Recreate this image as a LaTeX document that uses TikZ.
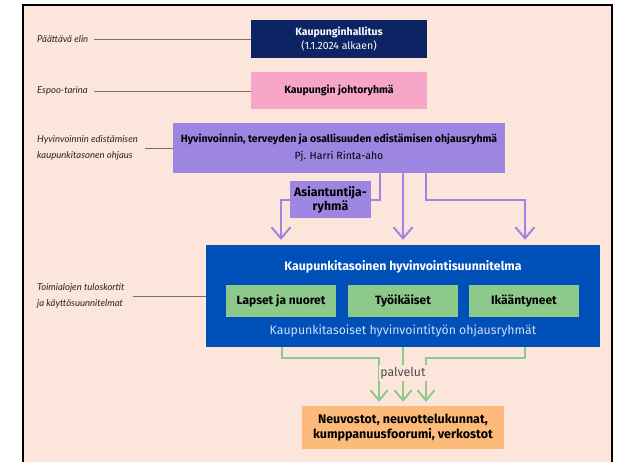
\documentclass[tikz,border=0pt]{standalone}
\usepackage{fontspec}
\setmainfont{Fira Sans}
\newfontfamily\labelfont{Lato}
\usepackage{xcolor}
\usepackage{tikz}
\usetikzlibrary{arrows.meta}

\definecolor{peach}{RGB}{252,229,218}
\definecolor{navy}{RGB}{12,36,100}
\definecolor{rosa}{RGB}{247,166,200}
\definecolor{lila}{RGB}{157,134,225}
\definecolor{sininen}{RGB}{0,80,185}
\definecolor{vihrea}{RGB}{140,201,138}
\definecolor{oranssi}{RGB}{253,187,123}
\definecolor{harmaa}{RGB}{120,110,105}
\definecolor{vaalea}{RGB}{205,222,255}

\begin{document}
\begin{tikzpicture}[x=1pt, y=-1pt]
\tikzstyle{boxtext}=[font=\fontsize{10.5}{12.5}\selectfont, align=center, inner sep=0pt]
\tikzstyle{bigtext}=[boxtext, font=\fontsize{12.3}{14}\selectfont]
\tikzstyle{orgbox}=[boxtext, minimum width=176pt, minimum height=38pt]
\tikzstyle{sidelabel}=[font=\labelfont\itshape\fontsize{9.5}{15.5}\selectfont, text=black!85, align=left, anchor=west, inner sep=0pt]
\tikzstyle{sideline}=[draw=harmaa, line width=1pt]
\tikzstyle{flow}=[draw=lila, line width=2pt, -{Straight Barb[length=11pt, width=19pt]}]
\tikzstyle{serve}=[draw=vihrea, line width=2pt, -{Straight Barb[length=10pt, width=17pt]}]
\tikzstyle{groupbox}=[bigtext, fill=vihrea, minimum width=110pt, minimum height=32pt, font=\fontsize{12}{14}\selectfont\bfseries]

\useasboundingbox (0,0) rectangle (621,461);
\clip (0,0) rectangle (621,461);
\fill[white] (0,0) rectangle (621,461);

% Background 'container'
\path[fill=peach, draw=black, line width=2pt] (23,5) rectangle (612,480);

\node[orgbox, fill=navy, text=white] (hallitus) at (339,39) {\textbf{Kaupunginhallitus}\\[2pt](1.1.2024 alkaen)};
\node[orgbox, fill=rosa, minimum height=37pt, font=\fontsize{10.5}{12.5}\selectfont\bfseries] (johto) at (339,90.5) {Kaupungin johtoryhmä};
\node[boxtext, fill=lila, minimum width=332pt, minimum height=50pt] (ohjaus) at (339,148) {\textbf{Hyvinvoinnin, terveyden ja osallisuuden edistämisen ohjausryhmä}\\[4pt]Pj. Harri Rinta-aho};
\node[bigtext, fill=lila, minimum width=81pt, minimum height=37pt, font=\fontsize{12.3}{14}\selectfont\bfseries] (asiantuntija) at (330.5,199.5) {Asiantuntija-\\ryhmä};

\node[fill=sininen, minimum width=394pt, minimum height=102pt, inner sep=0pt] (suunnitelma) at (403,296) {};
\node[bigtext, text=white, font=\fontsize{12.3}{14}\selectfont\bfseries] (otsikko) at (403,267) {Kaupunkitasoinen hyvinvointisuunnitelma};
\node[groupbox] (lapset) at (281,301) {Lapset ja nuoret};
\node[groupbox] (tyoikaiset) at (403,301) {Työikäiset};
\node[groupbox] (ikaantyneet) at (524,301) {Ikääntyneet};
\node[bigtext, text=vaalea] (ryhmat) at (403,331) {Kaupunkitasoiset hyvinvointityön ohjausryhmät};

\node[bigtext, fill=oranssi, minimum width=202pt, minimum height=43pt, font=\fontsize{12.5}{14.5}\selectfont\bfseries] (verkostot) at (403,427.5) {Neuvostot, neuvottelukunnat,\\kumppanuusfoorumi, verkostot};

% side labels
\node[sidelabel] (elin) at (37,39) {Päättävä elin};
\node[sidelabel] (tarina) at (37,91) {Espoo-tarina};
\node[sidelabel] (edistaminen) at (37,148) {Hyvinvoinnin edistämisen\\kaupunkitasonen ohjaus};
\node[sidelabel] (tuloskortit) at (37,296) {Toimialojen tuloskortit\\ja käyttösuunnitelmat};

\path[sideline] ([xshift=6pt]elin.east) -- (elin.east -| hallitus.west);
\path[sideline] ([xshift=6pt]tarina.east) -- (tarina.east -| johto.west);
\path[sideline] ([xshift=7pt]edistaminen.east) -- (edistaminen.east -| ohjaus.west);
\path[sideline] ([xshift=8pt]tuloskortit.east) -- (tuloskortit.east -| suunnitelma.west);

% ohjaus -> suunnitelma
\path[draw=lila, line width=2pt] ([xshift=41pt]ohjaus.south) |- (asiantuntija.east);
\path[flow] (asiantuntija.west) -| ([xshift=-122pt, yshift=5pt]suunnitelma.north);
\path[flow] (ohjaus.south -| suunnitelma.north) -- ([yshift=5pt]suunnitelma.north);
\path[flow] ([xshift=87pt]ohjaus.south) -- ++(0,27) -| ([xshift=122pt, yshift=5pt]suunnitelma.north);

% suunnitelma -> verkostot
\path[serve] ([xshift=-121pt]suunnitelma.south) -- ++(0,11) -| ([xshift=-24pt, yshift=4pt]verkostot.north);
\path[serve] (suunnitelma.south) -- ([yshift=4pt]verkostot.north);
\path[serve] ([xshift=122pt]suunnitelma.south) -- ++(0,11) -| ([xshift=23pt, yshift=4pt]verkostot.north);
\node[bigtext, fill=peach, text=black!70, inner xsep=1pt, inner ysep=2pt] (palvelut) at (403,373) {palvelut};
\end{tikzpicture}
\end{document}
